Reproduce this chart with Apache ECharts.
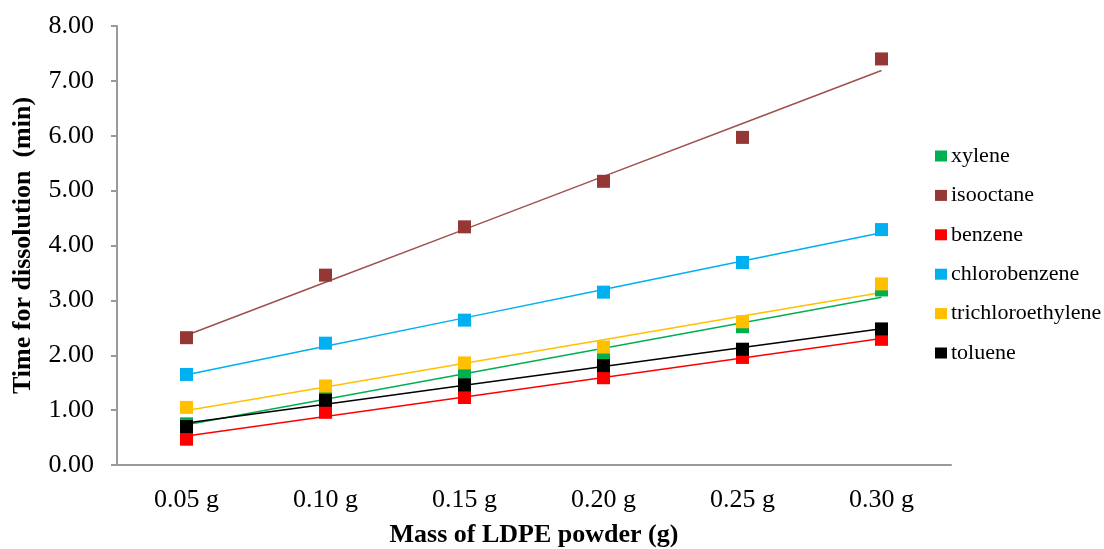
<!DOCTYPE html>
<html>
<head>
<meta charset="utf-8">
<script src="https://cdn.jsdelivr.net/npm/echarts@6/dist/echarts.min.js"></script>
<style>
  html, body { margin: 0; padding: 0; background: #fff; }
  #chart { width: 1104px; height: 549px; }
</style>
</head>
<body>
<div id="chart"></div>
<script>
// 样本质量
const masses = ['0.05 g', '0.10 g', '0.15 g', '0.20 g', '0.25 g', '0.30 g']
const yTicks = [0, 1, 2, 3, 4, 5, 6, 7, 8]

const xylene = [0.75, 1.27, 1.67, 1.98, 2.52, 3.19]
const isooctane = [2.32, 3.46, 4.34, 5.17, 5.97, 7.40]
const benzene = [0.47, 0.96, 1.23, 1.59, 1.96, 2.29]
const chlorobenzene = [1.65, 2.22, 2.64, 3.15, 3.69, 4.29]
const trichloroethylene = [1.05, 1.44, 1.86, 2.15, 2.61, 3.30]
const toluene = [0.70, 1.18, 1.46, 1.81, 2.11, 2.48]

const solvents = [
  { name: 'xylene', data: xylene, color: '#00B050', trend: '#00B050' },
  { name: 'isooctane', data: isooctane, color: '#953735', trend: '#A0504D' },
  { name: 'benzene', data: benzene, color: '#FF0000', trend: '#FF0000' },
  { name: 'chlorobenzene', data: chlorobenzene, color: '#00B0F0', trend: '#00B0F0' },
  { name: 'trichloroethylene', data: trichloroethylene, color: '#FFC000', trend: '#FFC000' },
  { name: 'toluene', data: toluene, color: '#000000', trend: '#000000' }
]

// 线性趋势线
const linFit = (ys) => {
  const n = ys.length
  const xs = ys.map((_, i) => i)
  const mx = xs.reduce((a, b) => a + b, 0) / n
  const my = ys.reduce((a, b) => a + b, 0) / n
  let sxy = 0, sxx = 0
  xs.forEach((x, i) => { sxy += (x - mx) * (ys[i] - my); sxx += (x - mx) * (x - mx) })
  const k = sxy / sxx
  return xs.map(x => +(my + k * (x - mx)).toFixed(4))
}

const font = 'Liberation Serif'
const chart = echarts.init(document.getElementById('chart'))

const trendSeries = solvents.map(s => ({
  name: s.name + '_trend',
  type: 'line',
  data: linFit(s.data),
  symbol: 'none',
  silent: true,
  lineStyle: { color: s.trend, width: 1.5 },
  z: 1
}))
const pointSeries = solvents.map(s => ({
  name: s.name,
  type: 'scatter',
  data: s.data,
  symbol: 'rect',
  symbolSize: 13,
  itemStyle: { color: s.color, opacity: 1 },
  z: 2
}))

chart.setOption({
  animation: false,
  grid: { left: 117, right: 153, top: 26, bottom: 84, outerBoundsMode: 'none' },
  legend: {
    data: solvents.map(s => ({ name: s.name, icon: 'rect', itemStyle: { color: s.color, opacity: 1 } })),
    orient: 'vertical',
    left: 930,
    top: 140,
    itemWidth: 12,
    itemHeight: 11,
    itemGap: 17.4,
    textStyle: { fontFamily: font, fontSize: 22, color: '#000', padding: [0, 0, 0, -1] }
  },
  xAxis: {
    type: 'category',
    data: masses,
    boundaryGap: true,
    axisLine: { lineStyle: { color: '#999', width: 2 } },
    axisTick: { show: false },
    axisLabel: { fontFamily: font, fontSize: 26, color: '#000', margin: 22 },
    name: 'Mass of LDPE powder (g)',
    nameLocation: 'middle',
    nameGap: 57,
    nameTextStyle: { fontFamily: font, fontSize: 26, fontWeight: 'bold', color: '#000' }
  },
  yAxis: {
    type: 'value',
    min: yTicks[0],
    max: yTicks[yTicks.length - 1],
    interval: 1,
    axisLine: { show: true, lineStyle: { color: '#999', width: 2 } },
    axisTick: { show: true, length: 6, lineStyle: { color: '#999', width: 2 } },
    splitLine: { show: false },
    axisLabel: { fontFamily: font, fontSize: 26, color: '#000', margin: 23, formatter: v => v.toFixed(2) },
    name: 'Time for dissolution  (min)',
    nameLocation: 'middle',
    nameGap: 81,
    nameTextStyle: { fontFamily: font, fontSize: 26, fontWeight: 'bold', color: '#000' }
  },
  series: [...trendSeries, ...pointSeries]
})
</script>
</body>
</html>
